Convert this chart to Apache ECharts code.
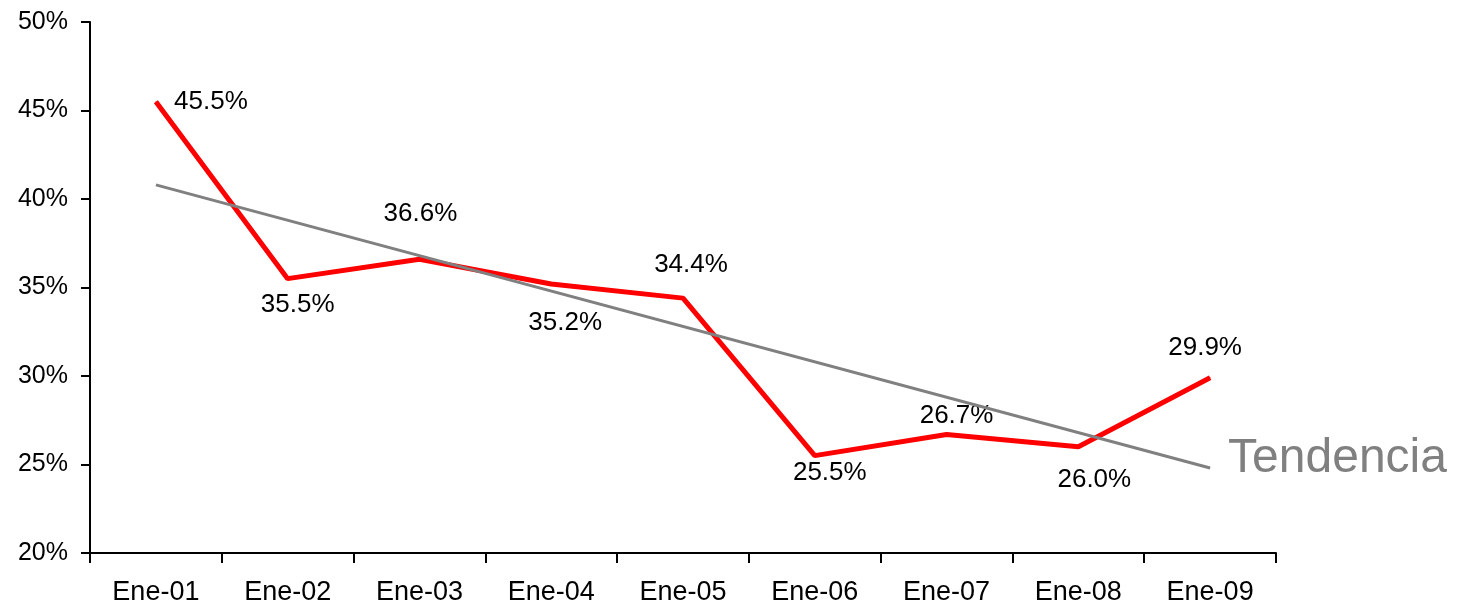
<!DOCTYPE html>
<html>
<head>
<meta charset="utf-8">
<script src="https://cdn.jsdelivr.net/npm/echarts@6/dist/echarts.min.js"></script>
<style>
    html, body { margin: 0; padding: 0; background: #fff; }
    #chart { width: 1464px; height: 608px; }
</style>
</head>
<body>
<div id="chart"></div>
<script>
// datos
const meses = ['Ene-01', 'Ene-02', 'Ene-03', 'Ene-04', 'Ene-05', 'Ene-06', 'Ene-07', 'Ene-08', 'Ene-09'];
const valores = [45.5, 35.5, 36.6, 35.2, 34.4, 25.5, 26.7, 26.0, 29.9];
// tendencia: solo extremos
const tendencia = [40.8, null, null, null, null, null, null, null, 24.8];

// desplazamiento de cada etiqueta respecto al punto
const labelOffsets = [[55, 0], [10, 26], [1, -45], [14, 39], [8, -33], [15, 17], [10, -19], [16, 33], [-5, -30]];

const fontFamily = 'Liberation Sans, Arial, sans-serif';

const chart = echarts.init(document.getElementById('chart'));
chart.setOption({
    animation: false,
    grid: {
        left: 90,
        right: 188,
        top: 22,
        bottom: 55
    },
    xAxis: {
        type: 'category',
        data: meses,
        boundaryGap: true,
        axisLine: { lineStyle: { color: '#000', width: 2 } },
        axisTick: { show: true, length: 10, interval: 0, lineStyle: { color: '#000', width: 2 } },
        axisLabel: { color: '#000', fontSize: 27, fontFamily: fontFamily, margin: 26, interval: 0 },
        splitLine: { show: false }
    },
    yAxis: {
        type: 'value',
        min: 20,
        max: 50,
        interval: 5,
        axisLine: { show: true, lineStyle: { color: '#000', width: 2 } },
        axisTick: { show: true, length: 9, lineStyle: { color: '#000', width: 2 } },
        axisLabel: { color: '#000', fontSize: 25, fontFamily: fontFamily, margin: 22, formatter: '{value}%' },
        splitLine: { show: false }
    },
    series: [
        {
            name: 'Valor',
            type: 'line',
            z: 2,
            symbol: 'circle',
            symbolSize: 1,
            itemStyle: { color: '#ff0000' },
            lineStyle: { color: '#ff0000', width: 5 },
            data: valores.map(function (v, i) {
                return {
                    value: v,
                    label: { offset: labelOffsets[i] }
                };
            }),
            label: {
                show: true,
                position: 'inside',
                color: '#000',
                fontSize: 26,
                fontFamily: fontFamily,
                formatter: function (p) { return p.value.toFixed(1) + '%'; }
            }
        },
        {
            name: 'Tendencia',
            type: 'line',
            z: 3,
            symbol: 'none',
            connectNulls: true,
            lineStyle: { color: '#808080', width: 3 },
            data: tendencia,
            endLabel: {
                show: true,
                formatter: 'Tendencia',
                color: '#808080',
                fontSize: 48,
                fontFamily: fontFamily,
                distance: 18,
                offset: [0, -9]
            }
        }
    ]
});
</script>
</body>
</html>
